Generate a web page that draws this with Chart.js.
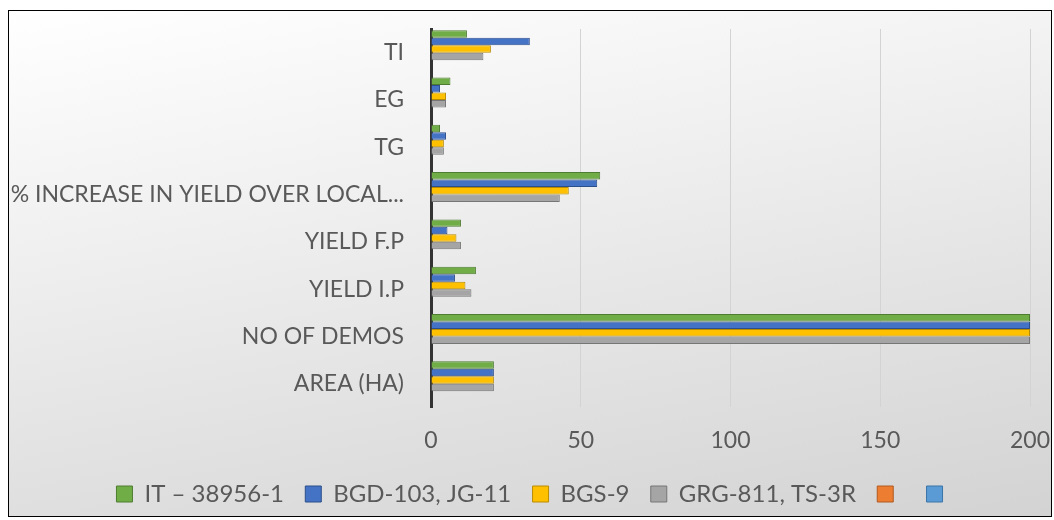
<!DOCTYPE html>
<html>
<head>
<meta charset="utf-8">
<script src="https://cdn.jsdelivr.net/npm/chart.js@4.4.1/dist/chart.umd.min.js"></script>
<style>
  html, body { margin: 0; padding: 0; background: #fff; }
  #wrap {
    position: absolute; left: 8px; top: 10px;
    width: 1044px; height: 507px; box-sizing: border-box;
    border: 1px solid #000;
    background: linear-gradient(170deg, #ffffff 0%, #f0f0f0 35%, #d3d3d3 100%);
  }
  #chart { display: block; }
</style>
</head>
<body>
<div id="wrap"><canvas id="chart" width="1042" height="505"></canvas></div>
<script>
// categories, top to bottom as drawn
const categories = [
  "TI",
  "EG",
  "TG",
  "% INCREASE IN YIELD OVER LOCAL...",
  "YIELD F.P",
  "YIELD I.P",
  "NO OF DEMOS",
  "AREA (HA)",
];

const it38956 = [12, 6.5, 3, 56.5, 10, 15, 200, 21];
const bgd103 = [33, 3, 5, 55.5, 5.5, 8, 200, 21];
const bgs9 = [20, 5, 4.3, 46, 8.5, 11.5, 200, 21];
const grg811 = [17.5, 5, 4.3, 43, 10, 13.5, 200, 21];
const emptySeries = [];

const xTicks = [0, 50, 100, 150, 200];

const font = { family: "Lato, 'Open Sans', sans-serif", size: 23 };
const legendFont = { family: "Lato, 'Open Sans', sans-serif", size: 24 };
const textColor = "#595959";
const legendGap = "\u00a0\u00a0";

function bar(label, data, fill, edge) {
  return {
    label: label,
    data: data,
    backgroundColor: fill,
    borderColor: edge,
    borderWidth: 1,
    categoryPercentage: 0.95,
    barPercentage: 1,
  };
}

// excel centres the legend a little right of the canvas middle
const legendShift = {
  id: "legendShift",
  afterLayout(chart) {
    chart.legend.left += 16;
    chart.legend.right += 16;
  },
};

new Chart(document.getElementById("chart"), {
  type: "bar",
  data: {
    labels: categories,
    datasets: [
      bar("IT \u2013 38956-1", it38956, "#70ad47", "#4e7d31"),
      bar("BGD-103, JG-11", bgd103, "#4472c4", "#2c4f8c"),
      bar("BGS-9", bgs9, "#ffc000", "#b98b00"),
      bar("GRG-811, TS-3R", grg811, "#a5a5a5", "#767676"),
      bar("", emptySeries, "#ed7d31", "#b05a20"),
      bar("", emptySeries, "#5b9bd5", "#3a74a8"),
    ],
  },
  plugins: [legendShift],
  options: {
    indexAxis: "y",
    responsive: false,
    animation: false,
    layout: { padding: { top: 18, right: 21, bottom: 0, left: 0 } },
    scales: {
      x: {
        min: 0,
        max: 200,
        afterBuildTicks: (scale) => {
          scale.ticks = xTicks.map((v) => ({ value: v }));
        },
        afterFit: (scale) => {
          scale.paddingLeft = 0;
          scale.paddingRight = 0;
        },
        ticks: { color: textColor, font: font, padding: 19 },
        grid: {
          drawTicks: false,
          color: (ctx) => (ctx.tick && ctx.tick.value === 0 ? "rgba(0,0,0,0)" : "#d3d3d3"),
          lineWidth: 1,
        },
        border: { display: false },
      },
      y: {
        afterFit: (scale) => {
          scale.width = 422;
          scale.paddingTop = 0;
          scale.paddingBottom = 0;
        },
        ticks: { color: textColor, font: font, padding: 27 },
        grid: { display: false, drawTicks: false },
        border: { display: true, color: "#333333", width: 3 },
      },
    },
    plugins: {
      legend: {
        position: "bottom",
        labels: {
          color: textColor,
          font: legendFont,
          boxWidth: 16,
          boxHeight: 16,
          padding: 9,
          generateLabels: (chart) => {
            const items = Chart.defaults.plugins.legend.labels.generateLabels(chart);
            items.forEach((it, i) => {
              if (i < items.length - 1) it.text = it.text + legendGap;
            });
            return items;
          },
        },
      },
      tooltip: { enabled: false },
    },
  },
});
</script>
</body>
</html>
